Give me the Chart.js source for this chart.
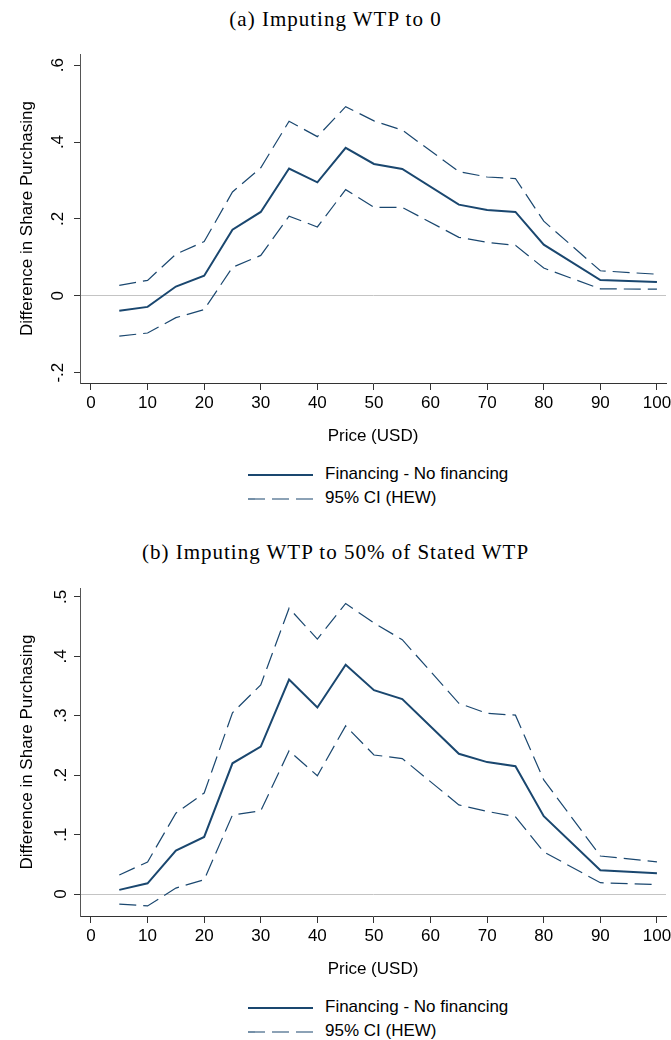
<!DOCTYPE html>
<html>
<head>
<meta charset="utf-8">
<script src="https://cdn.jsdelivr.net/npm/chart.js@4.4.1/dist/chart.umd.min.js"></script>
<style>
    body { margin: 0; background: #fff; width: 671px; height: 1040px; overflow: hidden; position: relative; font-family: "Liberation Sans", Arial, sans-serif; }
    .panel { position: absolute; left: 0; width: 671px; height: 533px; }
    .panel canvas { position: absolute; left: 0; top: 0; }
    .title { position: absolute; left: 0; top: 7px; width: 671px; text-align: center; font-family: "Liberation Serif", serif; font-size: 21px; letter-spacing: 1px; color: #000; }
    .legend { position: absolute; left: 248px; font-size: 17px; color: #000; }
    .legend div { height: 24px; line-height: 24px; white-space: nowrap; }
    .legend svg { vertical-align: middle; margin-right: 12px; }
</style>
</head>
<body>
<div class="panel" style="top:0px">
    <div class="title">(a) Imputing WTP to 0</div>
    <canvas id="chart-a" width="671" height="447"></canvas>
    <div class="legend" style="top:462px">
        <div><svg width="65" height="4"><line x1="0" y1="2" x2="65" y2="2" stroke="#1a476f" stroke-width="2"/></svg>Financing - No financing</div>
        <div><svg width="65" height="4"><line x1="0" y1="2" x2="65" y2="2" stroke="#1a476f" stroke-width="1.2" stroke-dasharray="17 7"/></svg>95% CI (HEW)</div>
    </div>
</div>
<div class="panel" style="top:533px">
    <div class="title">(b) Imputing WTP to 50% of Stated WTP</div>
    <canvas id="chart-b" width="671" height="447"></canvas>
    <div class="legend" style="top:462px">
        <div><svg width="65" height="4"><line x1="0" y1="2" x2="65" y2="2" stroke="#1a476f" stroke-width="2"/></svg>Financing - No financing</div>
        <div><svg width="65" height="4"><line x1="0" y1="2" x2="65" y2="2" stroke="#1a476f" stroke-width="1.2" stroke-dasharray="17 7"/></svg>95% CI (HEW)</div>
    </div>
</div>
<script>
// 價格點 (USD)
const prices = [5, 10, 15, 20, 25, 30, 35, 40, 45, 50, 55, 65, 70, 75, 80, 90, 100];
const xTicks = [0, 10, 20, 30, 40, 50, 60, 70, 80, 90, 100];

// (a) WTP imputed to 0
const diffA = [-0.039, -0.029, 0.024, 0.052, 0.172, 0.218, 0.331, 0.295, 0.385, 0.343, 0.330, 0.237, 0.223, 0.218, 0.133, 0.041, 0.036];
const hiA   = [0.027, 0.040, 0.108, 0.141, 0.270, 0.333, 0.454, 0.414, 0.492, 0.455, 0.431, 0.323, 0.309, 0.305, 0.194, 0.065, 0.056];
const loA   = [-0.105, -0.097, -0.057, -0.036, 0.074, 0.105, 0.207, 0.179, 0.276, 0.230, 0.230, 0.152, 0.139, 0.131, 0.072, 0.018, 0.017];
const yTicksA = [-0.2, 0, 0.2, 0.4, 0.6];

// (b) WTP imputed to 50% of stated
const diffB = [0.007, 0.018, 0.073, 0.096, 0.220, 0.248, 0.361, 0.314, 0.386, 0.343, 0.328, 0.236, 0.222, 0.215, 0.131, 0.040, 0.035];
const hiB   = [0.032, 0.054, 0.136, 0.170, 0.305, 0.352, 0.481, 0.429, 0.489, 0.456, 0.428, 0.321, 0.304, 0.301, 0.192, 0.064, 0.054];
const loB   = [-0.017, -0.020, 0.010, 0.024, 0.133, 0.140, 0.241, 0.199, 0.283, 0.234, 0.228, 0.150, 0.139, 0.130, 0.071, 0.019, 0.016];
const yTicksB = [0, 0.1, 0.2, 0.3, 0.4, 0.5];

const navy = '#1a476f';
const axisFont = { family: '"Liberation Sans", Arial, sans-serif', size: 17 };

function toPoints(values) {
    return prices.map((p, i) => ({ x: p, y: values[i] }));
}

function fmtTick(v) {
    if (v === 0) return '0';
    return String(+v.toFixed(1)).replace('0.', '.');
}

function makeChart(id, mid, lo, hi, yTicks, yMin, yMax, top) {
    const ctx = document.getElementById(id).getContext('2d');
    return new Chart(ctx, {
        type: 'line',
        data: {
            datasets: [
                { label: 'Financing - No financing', data: toPoints(mid), borderColor: navy, borderWidth: 2, pointRadius: 0, tension: 0, fill: false },
                { label: '95% CI (HEW)', data: toPoints(hi), borderColor: navy, borderWidth: 1.2, borderDash: [17, 7], pointRadius: 0, tension: 0, fill: false },
                { label: '95% CI (HEW) lower', data: toPoints(lo), borderColor: navy, borderWidth: 1.2, borderDash: [17, 7], pointRadius: 0, tension: 0, fill: false }
            ]
        },
        options: {
            responsive: false,
            animation: false,
            devicePixelRatio: 1,
            events: [],
            layout: { padding: { top: top, right: 5, left: 0, bottom: 0 } },
            plugins: { legend: { display: false }, tooltip: { enabled: false } },
            scales: {
                x: {
                    type: 'linear',
                    min: -1.94,
                    max: 101.6,
                    afterBuildTicks: s => { s.ticks = xTicks.map(v => ({ value: v })); },
                    afterFit: s => { s.height = 447 - 383; s.paddingLeft = 0; s.paddingRight = 0; },
                    border: { display: true, color: '#333', width: 1 },
                    grid: { drawOnChartArea: false, drawTicks: true, tickLength: 7, tickColor: '#333' },
                    ticks: { color: '#000', font: axisFont, padding: 3, maxRotation: 0 },
                    title: { display: true, text: 'Price (USD)', color: '#000', font: axisFont, padding: 0 }
                },
                y: {
                    type: 'linear',
                    min: yMin,
                    max: yMax,
                    afterBuildTicks: s => { s.ticks = yTicks.map(v => ({ value: v })); },
                    afterFit: s => { s.width = 80; s.paddingTop = 0; s.paddingBottom = 0; },
                    border: { display: true, color: '#555', width: 1 },
                    grid: {
                        drawOnChartArea: true,
                        drawTicks: true,
                        tickLength: 6,
                        tickColor: '#333',
                        color: c => (c.tick && c.tick.value === 0) ? '#c4c4c4' : 'rgba(0,0,0,0)',
                        lineWidth: 1
                    },
                    ticks: { color: '#000', font: axisFont, padding: 6, minRotation: 90, maxRotation: 90, crossAlign: 'center', callback: v => fmtTick(v) },
                    title: { display: true, text: 'Difference in Share Purchasing', color: '#000', font: axisFont, padding: { top: 17, bottom: 0 } }
                }
            }
        }
    });
}

document.addEventListener('DOMContentLoaded', function() {
    makeChart('chart-a', diffA, loA, hiA, yTicksA, -0.227, 0.629, 54);
    makeChart('chart-b', diffB, loB, hiB, yTicksB, -0.037, 0.515, 55);
});
</script>
</body>
</html>
